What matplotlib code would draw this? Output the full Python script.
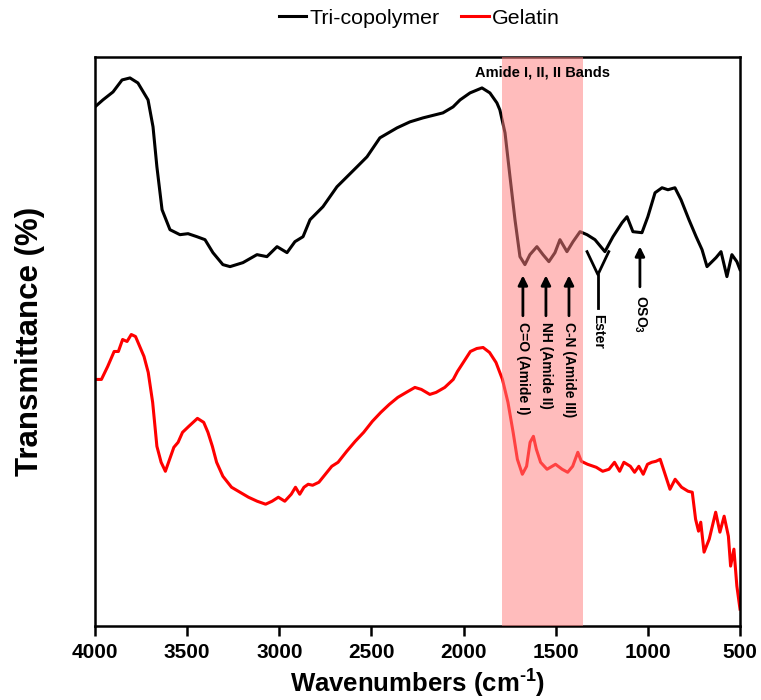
import numpy as np
import matplotlib
matplotlib.use("Agg")
import matplotlib.pyplot as plt

plt.rcParams['font.family'] = ['Liberation Sans', 'DejaVu Sans']
plt.rcParams['mathtext.fontset'] = 'custom'
plt.rcParams['mathtext.default'] = 'rm'
plt.rcParams['mathtext.rm'] = 'Liberation Sans:bold'
plt.rcParams['mathtext.bf'] = 'Liberation Sans:bold'

# Tri-copolymer spectrum (wavenumber, transmittance a.u.)
tri_wn = [4000, 3957, 3902, 3853, 3810, 3767, 3712, 3685, 3664, 3636, 3593, 3539,
          3495, 3447, 3403, 3360, 3306, 3267, 3197, 3121, 3067, 3012, 2958, 2915,
          2871, 2833, 2763, 2687, 2578, 2524, 2454, 2361, 2291, 2220, 2112, 2057,
          2019, 1965, 1900, 1857, 1819, 1803, 1775, 1748, 1721, 1694, 1667, 1640,
          1602, 1569, 1537, 1504, 1477, 1439, 1406, 1368, 1330, 1287, 1233, 1189,
          1140, 1113, 1081, 1032, 1000, 961, 923, 891, 853, 820, 777, 738,
          706, 679, 630, 603, 571, 544, 517, 500]
tri_t = [520, 527, 535, 547, 549, 544, 527, 500, 460, 417, 397, 392,
         393, 390, 387, 374, 362, 360, 364, 372, 370, 380, 374, 385,
         390, 407, 420, 440, 460, 470, 489, 499, 505, 509, 514, 520,
         527, 534, 539, 534, 524, 517, 494, 450, 407, 370, 362, 372,
         380, 372, 365, 374, 387, 375, 385, 395, 392, 387, 375, 390,
         404, 410, 395, 394, 410, 434, 439, 437, 439, 427, 407, 390,
         377, 360, 369, 375, 350, 372, 365, 357]

# Gelatin spectrum
gel_wn = [4000, 3965, 3931, 3896, 3873, 3850, 3826, 3803, 3780, 3757, 3734, 3711,
          3687, 3664, 3641, 3618, 3595, 3572, 3549, 3525, 3491, 3444, 3410, 3387,
          3363, 3340, 3306, 3259, 3213, 3167, 3120, 3074, 3039, 3005, 2970, 2935,
          2912, 2889, 2866, 2843, 2819, 2785, 2750, 2715, 2681, 2634, 2588, 2542,
          2495, 2449, 2403, 2357, 2311, 2264, 2229, 2183, 2149, 2102, 2056, 2033,
          1998, 1963, 1928, 1894, 1859, 1824, 1789, 1759, 1731, 1708, 1681, 1658,
          1639, 1621, 1605, 1582, 1547, 1501, 1465, 1435, 1408, 1380, 1361, 1327,
          1280, 1245, 1211, 1181, 1153, 1130, 1095, 1072, 1049, 1025, 1002, 979,
          956, 933, 910, 880, 852, 817, 782, 759, 741, 725, 713, 695,
          667, 632, 609, 586, 563, 551, 533, 517, 500]
gel_t = [247, 247, 260, 275, 275, 287, 285, 292, 290, 280, 270, 254,
         224, 180, 164, 155, 167, 179, 184, 194, 200, 208, 204, 194,
         180, 164, 150, 139, 134, 129, 125, 122, 125, 129, 125, 132,
         139, 132, 139, 142, 141, 144, 152, 160, 164, 175, 185, 194,
         205, 214, 222, 229, 234, 239, 237, 232, 234, 239, 247, 255,
         265, 275, 278, 279, 274, 264, 247, 224, 194, 167, 152, 160,
         184, 190, 177, 164, 157, 162, 157, 154, 160, 174, 165, 162,
         159, 155, 157, 164, 155, 164, 160, 154, 160, 152, 162, 164,
         165, 167, 154, 137, 147, 139, 135, 134, 107, 95, 104, 74,
         87, 114, 94, 110, 90, 60, 77, 40, 17]

band_lo, band_hi = 1350, 1790

fig = plt.figure(figsize=(7.61, 7.0), dpi=100)
ax = fig.add_axes([0.1248, 0.1057, 0.8476, 0.8129])

ax.plot(tri_wn, tri_t, color='black', lw=2.2, label='Tri-copolymer', zorder=2,
        solid_joinstyle='round')
ax.plot(gel_wn, gel_t, color='#ff0000', lw=2.2, label='Gelatin', zorder=2,
        solid_joinstyle='round')
ax.axvspan(band_lo, band_hi, color='#ff7f7f', alpha=0.52, lw=0, zorder=3)

ax.set_xlim(4000, 500)
ax.set_ylim(0, 570)
ax.set_xticks([4000, 3500, 3000, 2500, 2000, 1500, 1000, 500])
ax.set_yticks([])
for s in ax.spines.values():
    s.set_linewidth(1.8)
ax.tick_params(axis='x', direction='out', length=7, width=1.8, labelsize=15, pad=5)
for lab in ax.get_xticklabels():
    lab.set_fontweight('bold')

ax.set_xlabel(r'Wavenumbers (cm$^{\text{-}1}$)', fontsize=18.5, fontweight='bold')
ax.xaxis.set_label_coords(0.5, -0.073)
ax.set_ylabel('Transmittance (%)', fontsize=22.5, fontweight='bold')
ax.yaxis.set_label_coords(-0.077, 0.5)

# annotations
ax.text(1569, 554, 'Amide I, II, II Bands', fontsize=10.5, fontweight='bold',
        ha='center', va='center', zorder=4)
arrow = dict(arrowstyle='-|>', color='black', lw=2, mutation_scale=14)
for wn, lab in [(1678, 'C=O (Amide I)'), (1553, 'NH (Amide II)'), (1428, 'C-N (Amide III)')]:
    ax.annotate('', xy=(wn, 354), xytext=(wn, 308), arrowprops=arrow, zorder=4)
    ax.text(wn, 305, lab, rotation=270, fontsize=10, fontweight='bold',
            ha='center', va='top', zorder=4)
ax.annotate('', xy=(1043, 383), xytext=(1043, 337), arrowprops=arrow, zorder=4)
ax.text(1043, 332, r'OSO$_{3}$', rotation=270, fontsize=10, fontweight='bold',
        ha='center', va='top')
ax.plot([1330, 1271, 1212], [375, 352, 375], color='black', lw=2, zorder=4)
ax.plot([1271, 1271], [352, 319], color='black', lw=2, zorder=4)
ax.text(1271, 313, 'Ester', rotation=270, fontsize=10, fontweight='bold',
        ha='center', va='top')

fig.legend(loc='center', bbox_to_anchor=(0.551, 0.974), ncol=2, frameon=False,
           fontsize=15.4, handlelength=1.3, handletextpad=0.15, columnspacing=1.0)

fig.savefig('out.png', dpi=100)
